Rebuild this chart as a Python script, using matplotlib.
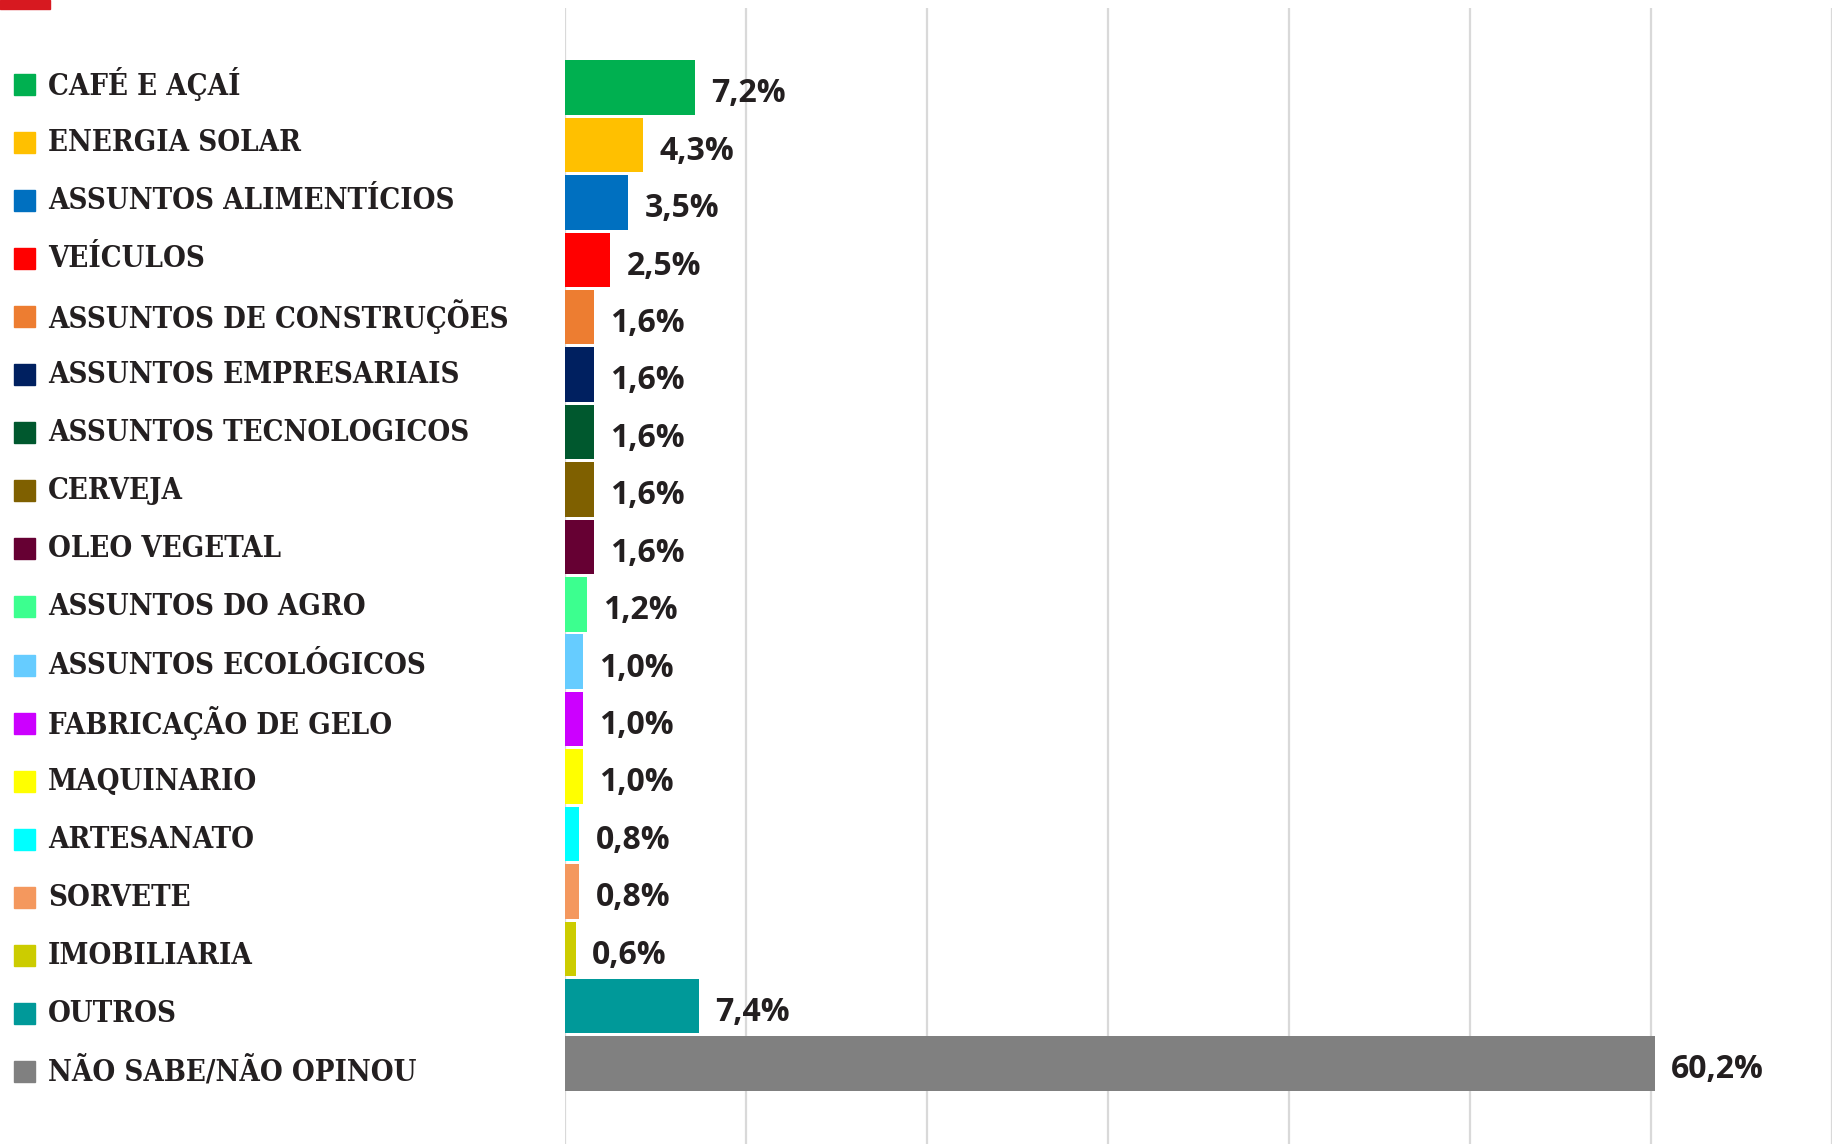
import matplotlib.pyplot as plt
from matplotlib.patches import Rectangle

categories = [
    "CAFÉ E AÇAÍ", "ENERGIA SOLAR", "ASSUNTOS ALIMENTÍCIOS", "VEÍCULOS",
    "ASSUNTOS DE CONSTRUÇÕES", "ASSUNTOS EMPRESARIAIS", "ASSUNTOS TECNOLOGICOS",
    "CERVEJA", "OLEO VEGETAL", "ASSUNTOS DO AGRO", "ASSUNTOS ECOLÓGICOS",
    "FABRICAÇÃO DE GELO", "MAQUINARIO", "ARTESANATO", "SORVETE",
    "IMOBILIARIA", "OUTROS", "NÃO SABE/NÃO OPINOU",
]
values = [7.2, 4.3, 3.5, 2.5, 1.6, 1.6, 1.6, 1.6, 1.6, 1.2, 1.0, 1.0, 1.0,
          0.8, 0.8, 0.6, 7.4, 60.2]
colors = [
    "#00B050", "#FFC000", "#0070C0", "#FF0000", "#ED7D31", "#002060",
    "#00582E", "#7F6000", "#660033", "#3CFF8F", "#66CCFF", "#CC00FF",
    "#FFFF00", "#00FFFF", "#F4985E", "#CCCC00", "#009999", "#808080",
]

text_color = "#231F20"
W, H = 1832, 1144

fig = plt.figure(figsize=(W / 100, H / 100), dpi=100)
ax = fig.add_axes([565 / W, 0, 1 - 565 / W, 1 - 8 / H])

# Set bars
ypos = range(len(categories))
ax.barh(ypos, values, height=0.95, color=colors, zorder=3)
ax.set_xlim(0, 70)
ax.set_ylim(18.40, -1.385)

# Vertical gridlines
ax.set_xticks(range(0, 71, 10))
ax.grid(axis="x", color="#D9D9D9", linewidth=1.6, zorder=0)
ax.tick_params(left=False, bottom=False, labelleft=False, labelbottom=False)
for s in ax.spines.values():
    s.set_visible(False)

# Value labels
for y, v in zip(ypos, values):
    label = f"{v:.1f}%".replace(".", ",")
    ax.text(v + 0.9, y + 0.11, label, va="center", ha="left",
            fontsize=23, fontweight="bold", family="Open Sans",
            color=text_color, zorder=4)

# Legend-like labels on the left (rows placed in figure pixels)
for i, (name, c) in enumerate(zip(categories, colors)):
    yc = 1 - (84 + 58.1 * i) / H
    fig.patches.append(Rectangle((14 / W, yc - 10.5 / H), 21 / W, 21 / H,
                                 transform=fig.transFigure, color=c))
    fig.text(48 / W, yc, name, va="center", ha="left",
             fontsize=21, fontweight="bold", family="DejaVu Serif",
             fontstretch="condensed", color=text_color)

# Red mark at top-left corner
fig.patches.append(Rectangle((0, 1 - 9 / H), 50 / W, 9 / H,
                             transform=fig.transFigure, color="#D71920"))

fig.savefig("out.png", dpi=100)
